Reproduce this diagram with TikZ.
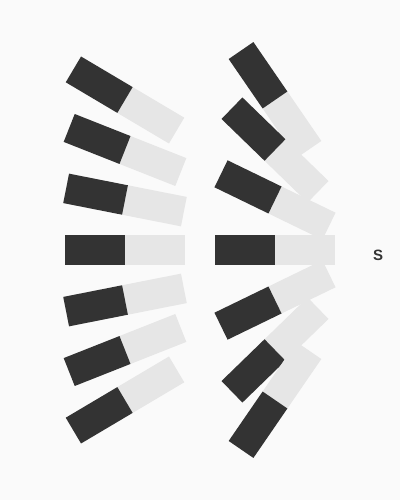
\documentclass[tikz,border=0pt]{standalone}
\usepackage{fontspec}
\setsansfont{Liberation Sans}
\definecolor{bgc}{HTML}{FAFAFA}
\definecolor{darkc}{HTML}{333333}
\definecolor{lightc}{HTML}{E6E6E6}
\begin{document}
\begin{tikzpicture}[x=1pt,y=1pt,
  half/.style={draw=none, inner sep=0pt, outer sep=0pt, minimum width=60pt, minimum height=30pt},
  darkhalf/.style={half, fill=darkc},
  lighthalf/.style={half, fill=lightc},
  pole/.style={font=\sffamily\bfseries\fontsize{15}{18}\selectfont, text=darkc, inner sep=0pt}]
\fill[bgc] (0,0) rectangle (400,500);
\useasboundingbox (0,0) rectangle (400,500);
\foreach \cx/\col in {125/L, 275/R}{
  \foreach \k in {3,2,1,0,-1,-2,-3}{
    \pgfmathsetmacro{\cy}{250+50*\k}
    \pgfmathsetmacro{\ang}{atan2(250-\cy,378-\cx)}
    \node[lighthalf, rotate=\ang, anchor=west] (\col\k light) at (\cx,\cy) {};
    \node[darkhalf, rotate=\ang, anchor=east] (\col\k dark) at (\cx,\cy) {};
  }
}
\node[pole] (S) at (378,244.5) {S};
\end{tikzpicture}
\end{document}
